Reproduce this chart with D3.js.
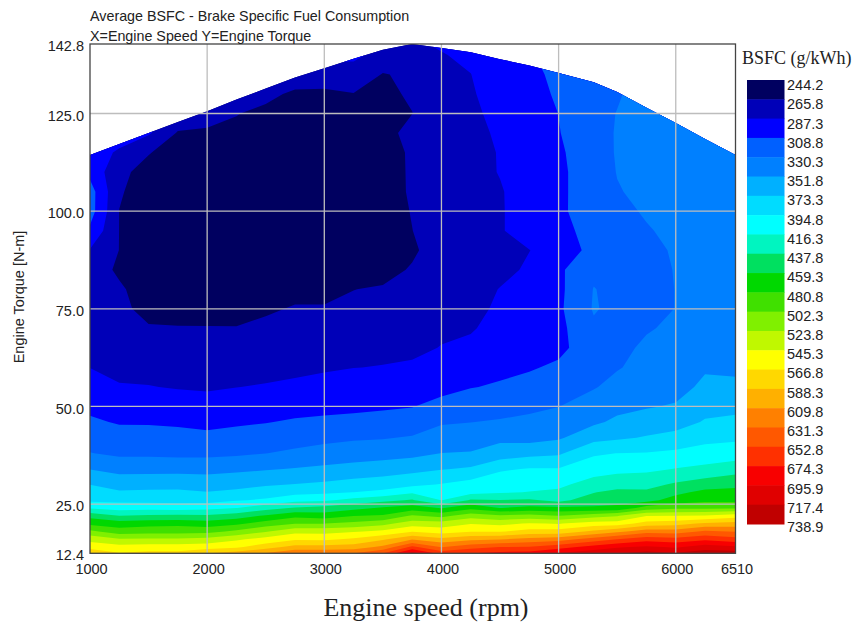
<!DOCTYPE html>
<html>
<head>
<meta charset="utf-8">
<script src="https://cdn.jsdelivr.net/npm/d3@7"></script>
<style>
    body { margin: 0; background: #fff; }
    text { fill: #222; }
    .sans { font-family: "Liberation Sans", Arial, sans-serif; }
    .serif { font-family: "Liberation Serif", "Times New Roman", serif; }
</style>
</head>
<body>
<div id="chart"></div>
<script>
const speeds = [1000, 1250, 1500, 1750, 2000, 2250, 2500, 2750, 3000, 3250, 3500, 3750,
    4000, 4250, 4500, 4750, 5000, 5300, 5500, 5750, 6000, 6250, 6510]

const torques = [12.4, 14, 16, 18, 20, 22, 24, 26, 28, 30, 34, 38, 42, 46, 50, 55, 60, 65, 70, 75,
    80, 85, 90, 95, 100, 105, 110, 115, 120, 125, 130, 135, 140, 142.8]

// full load curve, torque at each speed
const maxTorque = [114.4, 117.2, 120, 122.8, 125.6, 128.6, 131.4, 134.2, 136.6, 139, 141.3, 142.8,
    141.8, 140.7, 138.9, 137.3, 135.4, 133, 130.5, 126.5, 122.6, 118.5, 114.4]

// BSFC, one list per speed, same order as torques
const bsfc1000 = [588,557,539,507,475,452,414,390,381,373,351,331,321,312,304,295,287,281,275,270,272,278,286,305,318,318,303,292,292,292,292,292,292,292]
const bsfc1250 = [568,553,526,491,470,438,408,389,376,365,345,326,318,307,299,288.5,283,279,275,272,269,262,265.5,265.5,265.5,268,271,286,292,292,292,292,292,292]
const bsfc1500 = [572,556,527,493,474,441,409,388,377,366,345,326,317,307,298,288,281,275,268,258,255,254,254,254,254,255,258,267,290,295,295,295,295,295]
const bsfc1750 = [572,556,527,494,475,442,407,387,377,367,345,325,315,306,297,286,278,273,267,258,255,255,254,254,254,254,254,256,264,282,290,290,290,290]
const bsfc2000 = [588,558,530,495,470,441,410,386,374,364,345,325,314,303,295,285,277,272,267,257,255,255,254,254,254,254,254,254,262,276,285,285,285,285]
const bsfc2250 = [598,563,542,507,476,449,416,393,377,368,347,327,316,306,297,287,278,272,267,256,255,255,254,254,254,254,254,254,258,267,282,285,285,285]
const bsfc2500 = [612,579,553,522,490,462,430,398,383,371,350,330,319,308,299,289,280,274,272,262,255,255,254,254,254,254,254,254,255,258,274,285,285,285]
const bsfc2750 = [628,596,564,538,502,475,440,410,388,374,353,334,322,311,302,291,283,276,271,268,258,255,255,254,254,254,254,254,254,255,260,285,290,290]
const bsfc3000 = [628,596,563,538,502,470,445,413,391,377,356,338,325,313,303,294,285,277,272,268,258,255,255,254,254,254,254,254,254,255,260,282,290,292]
const bsfc3250 = [631,598,570,543,508,480,453,423,395,381,360,340,328,315,304,296,287,280,274,270,265.5,258,255,254,254,254,254,254,254,256,265,282,290,292]
const bsfc3500 = [652,615,585,550,517,483,462,432,400,384,363,343,329,317,306,298,288,283,276,271,268,258,255,254,254,254,255,256,257,258,262,264.5,283,287]
const bsfc3750 = [705,658,608,565,535,505,470,440,413,390,367,346,332,319,308,300,290,283,278,272,268,268,262,265.5,267,269,269,269,274,265.5,268,270,280,284]
const bsfc4000 = [665,630,595,556,535,495,458,416,405,396,372,352,340,328,316,302,295,288,284,281,279,278,278,278,278,278,278,278,278,278,280,283,286,290]
const bsfc4250 = [674,645,605,565,544,515,474,440,410,403,376,353,342,330,320,308,300,293,285,281,279,280,280,280,281,282,282,283,284,284,285,287,292,295]
const bsfc4500 = [680,653,608,565,540,506,459,438,414,408,392,361,347,332,323,311,304,300,296,291,288,282,285,286,286,286,288,288,289,292,297,300,305,308]
const bsfc4750 = [683,654,617,574,547,510,465,441,417,410,396,367,344,335,326,315,307,301,298,296,293,290,287,294,294,295,296,297,298,299,300,302,306,309]
const bsfc5000 = [698,666,622,575,544,502,463,432,420,412,396,370,349,340,330,321,312,304,303,305,304,305,295,299,304,305,305,306,308,309,312,315,320,322]
const bsfc5300 = [712,682,641,593,555,515,462,449,437,425,407,392,366,348,339,329,322,320,327,332,331,326,316,320,322,319,319,320,321,322,323,325,328,330]
const bsfc5500 = [717,693,653,604,556,522,465,450,443,430,410,395,370,356,346,336,329,326,322,325,325,325,325,325,326,329,331,332,332,331,328,330,332,332]
const bsfc5750 = [725,700,665,622,575,545,490,452,442,431,412,396,375,362,350,342,336,333,329,327,325,325,326,329,332,335,337,338,338,338,340,342,342,342]
const bsfc6000 = [720,693,661,620,580,545,497,469,454,441,417,399,380,365,354,343,338,335,333,330.5,330.6,331,332,334,336,338,340,340,340,340,342,342,342,342]
const bsfc6250 = [730,706,670,635,592,548,498,476,465,449,421,404,388,375,367,357,349,345,343,342,342,342,342,342,342,342,342,342,342,342,342,342,342,342]
const bsfc6510 = [730,700,660,630,597,557,499,475,465,455,428,406,391,378,368,357,347,345,343,342,342,342,342,342,342,342,342,342,342,342,342,342,342,342]

const bsfcBySpeed = [bsfc1000, bsfc1250, bsfc1500, bsfc1750, bsfc2000, bsfc2250, bsfc2500, bsfc2750,
    bsfc3000, bsfc3250, bsfc3500, bsfc3750, bsfc4000, bsfc4250, bsfc4500, bsfc4750, bsfc5000,
    bsfc5300, bsfc5500, bsfc5750, bsfc6000, bsfc6250, bsfc6510]

const levels = [244.2, 265.8, 287.3, 308.8, 330.3, 351.8, 373.3, 394.8, 416.3, 437.8, 459.3, 480.8,
    502.3, 523.8, 545.3, 566.8, 588.3, 609.8, 631.3, 652.8, 674.3, 695.9, 717.4, 738.9]

const colors = ['#000060', '#0000b8', '#0000ff', '#0060ff', '#0080ff', '#00b0ff', '#00dcff', '#00ffff',
    '#00f5c0', '#00e060', '#00d800', '#40e000', '#80f000', '#c0f800', '#ffff00', '#ffd800',
    '#ffb000', '#ff8000', '#ff5800', '#ff3000', '#f80000', '#e00000', '#c00000']

const speedTicks = [1000, 2000, 3000, 4000, 5000, 6000, 6510]
const torqueTicks = [12.4, 25, 50, 75, 100, 125, 142.8]

generate()

function generate(){
    const chart_width = 856
    const chart_height = 625

    var svg = d3.select('#chart')
        .append('svg')
        .attr('width', chart_width)
        .attr('height', chart_height)
        .style('display', 'block')

    // Create Scales
    var x_scale = d3.scaleLinear().domain([1000, 6510]).range([90, 735.5])
    var y_scale = d3.scaleLinear().domain([12.4, 142.8]).range([553.3, 44])

    // contour grid index -> speed / torque (the grid is not evenly spaced)
    var speed_at = d3.scaleLinear()
        .domain(speeds.map(function(d, i){ return i + 0.5 }))
        .range(speeds)
        .clamp(true)
    var torque_at = d3.scaleLinear()
        .domain(torques.map(function(d, i){ return i + 0.5 }))
        .range(torques)
        .clamp(true)

    var values = []
    torques.forEach(function(t, j){
        speeds.forEach(function(s, i){
            values.push(bsfcBySpeed[i][j])
        })
    })

    var contours = d3.contours()
        .size([speeds.length, torques.length])
        .thresholds(levels.slice(0, colors.length))(values)

    var path = d3.geoPath(d3.geoTransform({
        point: function(x, y){
            this.stream.point(x_scale(speed_at(x)), y_scale(torque_at(y)))
        }
    }))

    // only the area under the full load curve is mapped
    var envelope = d3.area()
        .x(function(d, i){ return x_scale(speeds[i]) })
        .y0(y_scale(12.4))
        .y1(function(d){ return y_scale(d) })

    svg.append('clipPath')
        .attr('id', 'load-clip')
        .append('path')
        .attr('d', envelope(maxTorque))

    svg.append('g')
        .attr('clip-path', 'url(#load-clip)')
        .selectAll('path')
        .data(contours)
        .enter()
        .append('path')
        .attr('d', path)
        .attr('fill', function(d, i){ return colors[i] })

    // Grid
    svg.append('g')
        .selectAll('line')
        .data(speedTicks.slice(1, 6))
        .enter()
        .append('line')
        .attr('x1', function(d){ return x_scale(d) })
        .attr('x2', function(d){ return x_scale(d) })
        .attr('y1', y_scale(12.4))
        .attr('y2', y_scale(142.8))
        .attr('stroke', '#bdbdbd')
        .attr('stroke-width', 1.3)

    svg.append('g')
        .selectAll('line')
        .data(torqueTicks.slice(1, 6))
        .enter()
        .append('line')
        .attr('x1', x_scale(1000))
        .attr('x2', x_scale(6510))
        .attr('y1', function(d){ return y_scale(d) })
        .attr('y2', function(d){ return y_scale(d) })
        .attr('stroke', '#bdbdbd')
        .attr('stroke-width', 1.3)

    svg.append('rect')
        .attr('x', x_scale(1000))
        .attr('y', y_scale(142.8))
        .attr('width', x_scale(6510) - x_scale(1000))
        .attr('height', y_scale(12.4) - y_scale(142.8))
        .attr('fill', 'none')
        .attr('stroke', '#444')
        .attr('stroke-width', 1.3)

    // Create Axis
    var x_axis = d3.axisBottom(x_scale)
        .tickValues(speedTicks)
        .tickFormat(d3.format('d'))
        .tickSize(0)
        .tickPadding(10)
    svg.append('g')
        .attr('class', 'sans')
        .attr('transform', 'translate(1, ' + y_scale(12.4) + ')')
        .call(x_axis)
        .call(function(g){ g.select('.domain').remove() })
        .selectAll('text')
        .attr('font-size', 14.5)

    var y_axis = d3.axisLeft(y_scale)
        .tickValues(torqueTicks)
        .tickFormat(d3.format('.1f'))
        .tickSize(0)
        .tickPadding(6)
    svg.append('g')
        .attr('class', 'sans')
        .attr('transform', 'translate(' + x_scale(1000) + ', 2)')
        .call(y_axis)
        .call(function(g){ g.select('.domain').remove() })
        .selectAll('text')
        .attr('font-size', 14.5)

    // Titles
    svg.append('text')
        .attr('class', 'sans')
        .attr('x', 90)
        .attr('y', 21)
        .attr('font-size', 14.3)
        .text('Average BSFC - Brake Specific Fuel Consumption')
    svg.append('text')
        .attr('class', 'sans')
        .attr('x', 90)
        .attr('y', 41)
        .attr('font-size', 14.3)
        .text('X=Engine Speed Y=Engine Torque')
    svg.append('text')
        .attr('class', 'sans')
        .attr('transform', 'translate(24, 297) rotate(-90)')
        .attr('text-anchor', 'middle')
        .attr('font-size', 14.5)
        .text('Engine Torque [N-m]')
    svg.append('text')
        .attr('class', 'serif')
        .attr('x', 426)
        .attr('y', 616)
        .attr('text-anchor', 'middle')
        .attr('font-size', 26)
        .text('Engine speed (rpm)')
    svg.append('text')
        .attr('class', 'serif')
        .attr('x', 742)
        .attr('y', 64)
        .attr('font-size', 18)
        .text('BSFC (g/kWh)')

    // Legend
    var legend_scale = d3.scaleBand()
        .domain(d3.range(colors.length))
        .range([80, 524])

    svg.append('g')
        .selectAll('rect')
        .data(colors)
        .enter()
        .append('rect')
        .attr('x', 747)
        .attr('y', function(d, i){ return legend_scale(i) })
        .attr('width', 37.5)
        .attr('height', legend_scale.bandwidth() + 0.5)
        .attr('fill', function(d){ return d })

    var label_scale = d3.scalePoint()
        .domain(levels)
        .range([85, 527])

    var legend_axis = d3.axisRight(label_scale)
        .tickFormat(d3.format('.1f'))
        .tickSize(0)
        .tickPadding(3)
    svg.append('g')
        .attr('class', 'sans')
        .attr('transform', 'translate(784, 0)')
        .call(legend_axis)
        .call(function(g){ g.select('.domain').remove() })
        .selectAll('text')
        .attr('font-size', 14.5)
}
</script>
</body>
</html>
